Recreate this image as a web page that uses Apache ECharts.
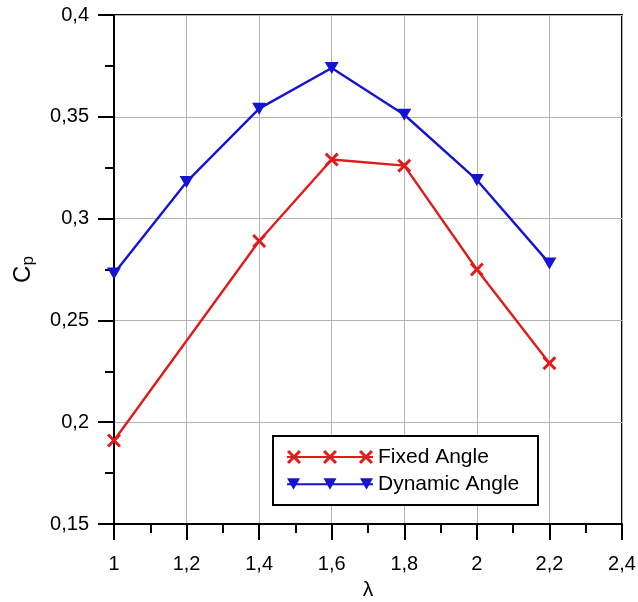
<!DOCTYPE html>
<html>
<head>
<meta charset="utf-8">
<script src="https://cdn.jsdelivr.net/npm/echarts@6/dist/echarts.min.js"></script>
<style>html,body{margin:0;padding:0;background:#fff}#c{width:638px;height:602px}</style>
</head>
<body>
<div id="c"></div>
<script>
// ---- data ----
var fixedX = [1, 1.4, 1.6, 1.8, 2, 2.2];
var fixedCp = [0.191, 0.289, 0.329, 0.326, 0.275, 0.229];
var dynamicX = [1, 1.2, 1.4, 1.6, 1.8, 2, 2.2];
var dynamicCp = [0.273, 0.318, 0.354, 0.374, 0.351, 0.319, 0.278];
var seriesNames = ['Fixed Angle', 'Dynamic Angle'];
var xTickLabels = ['1', '1,2', '1,4', '1,6', '1,8', '2', '2,2', '2,4'];
var yTickLabels = ['0,15', '0,2', '0,25', '0,3', '0,35', '0,4'];
var xMin = 1, xMax = 2.4, xStep = 0.2;
var yMin = 0.15, yMax = 0.4, yStep = 0.05;

function pairs(xs, ys) { return xs.map(function (x, i) { return [x, ys[i]]; }); }

// marker shapes
function xShape(cx, cy, h, d) {
  return 'M' + (cx - h + d) + ',' + (cy - h) + ' L' + cx + ',' + (cy - d) + ' L' + (cx + h - d) + ',' + (cy - h) +
    ' L' + (cx + h) + ',' + (cy - h + d) + ' L' + (cx + d) + ',' + cy + ' L' + (cx + h) + ',' + (cy + h - d) +
    ' L' + (cx + h - d) + ',' + (cy + h) + ' L' + cx + ',' + (cy + d) + ' L' + (cx - h + d) + ',' + (cy + h) +
    ' L' + (cx - h) + ',' + (cy + h - d) + ' L' + (cx - d) + ',' + cy + ' L' + (cx - h) + ',' + (cy - h + d) + ' Z';
}
function triShape(cx) {
  return 'M' + (cx - 6.5) + ',1 L' + (cx + 6.5) + ',1 L' + cx + ',12.5 Z';
}
var xSymbol = 'path://' + xShape(7, 7, 7, 2.1);
var lineRect = 'M0,6 L86,6 L86,8 L0,8 Z ';
var fixedIcon = 'path://' + lineRect + xShape(7, 7, 7, 2.1) + ' ' + xShape(43, 7, 7, 2.1) + ' ' + xShape(79, 7, 7, 2.1);
var dynIcon = 'path://' + lineRect + triShape(6.5) + ' ' + triShape(43) + ' ' + triShape(79.5);

var red = '#e01b1b', blue = '#1414d2';
var FONT = 'Liberation Sans, Arial, sans-serif';

var chart = echarts.init(document.getElementById('c'), null, { renderer: 'canvas' });
chart.setOption({
  animation: false,
  backgroundColor: '#fff',
  grid: { left: 114, top: 15, right: 16, bottom: 78, containLabel: false, outerBoundsMode: 'none',
    show: true, borderColor: '#000', borderWidth: 2, backgroundColor: 'transparent' },
  xAxis: {
    type: 'value', min: xMin, max: xMax, interval: xStep,
    name: 'λ', nameLocation: 'middle', nameGap: 56,
    nameTextStyle: { fontFamily: FONT, fontSize: 21, color: '#000' },
    axisLine: { show: true, onZero: false, lineStyle: { color: '#000', width: 2 } },
    axisTick: { show: true, length: 16, lineStyle: { color: '#000', width: 2 } },
    minorTick: { show: true, splitNumber: 2, length: 9, lineStyle: { color: '#000', width: 2 } },
    axisLabel: { margin: 30, fontFamily: FONT, fontSize: 20, color: '#000',
      formatter: function (v) { return xTickLabels[Math.round((v - xMin) / xStep)]; } },
    splitLine: { show: true, lineStyle: { color: '#b4b4b4', width: 1 } }
  },
  yAxis: {
    type: 'value', min: yMin, max: yMax, interval: yStep,
    name: '{c|C}{p|p}', nameLocation: 'middle', nameGap: 77, nameRotate: 90,
    nameTextStyle: { fontFamily: FONT, color: '#000',
      rich: { c: { fontFamily: FONT, fontSize: 24, color: '#000', lineHeight: 27 },
              p: { fontFamily: FONT, fontSize: 17, color: '#000', verticalAlign: 'bottom', lineHeight: 17 } } },
    axisLine: { show: true, onZero: false, lineStyle: { color: '#000', width: 2 } },
    axisTick: { show: true, length: 16, lineStyle: { color: '#000', width: 2 } },
    minorTick: { show: true, splitNumber: 2, length: 9, lineStyle: { color: '#000', width: 2 } },
    axisLabel: { margin: 25, fontFamily: FONT, fontSize: 20, color: '#000',
      formatter: function (v) { return yTickLabels[Math.round((v - yMin) / yStep)]; } },
    splitLine: { show: true, lineStyle: { color: '#b4b4b4', width: 1 } }
  },
  legend: {
    orient: 'vertical', left: 273, top: 436,
    backgroundColor: '#fff', borderColor: '#000', borderWidth: 2,
    padding: [9, 15, 9, 14], itemGap: 3, itemWidth: 86, itemHeight: 14,
    textStyle: { fontFamily: FONT, fontSize: 21, color: '#000', lineHeight: 24, width: 145 },
    data: [
      { name: seriesNames[0], icon: fixedIcon, itemStyle: { color: red, borderWidth: 0 } },
      { name: seriesNames[1], icon: dynIcon, itemStyle: { color: blue, borderWidth: 0 } }
    ]
  },
  series: [
    { name: seriesNames[0], type: 'line', data: pairs(fixedX, fixedCp),
      symbol: xSymbol, symbolSize: 14, showAllSymbol: true,
      lineStyle: { color: red, width: 2.4 }, itemStyle: { color: red, borderWidth: 0 } },
    { name: seriesNames[1], type: 'line', data: pairs(dynamicX, dynamicCp),
      symbol: 'triangle', symbolRotate: 180, symbolSize: [14, 12], showAllSymbol: true,
      lineStyle: { color: blue, width: 2.4 }, itemStyle: { color: blue, borderWidth: 0 } }
  ]
});
</script>
</body>
</html>
